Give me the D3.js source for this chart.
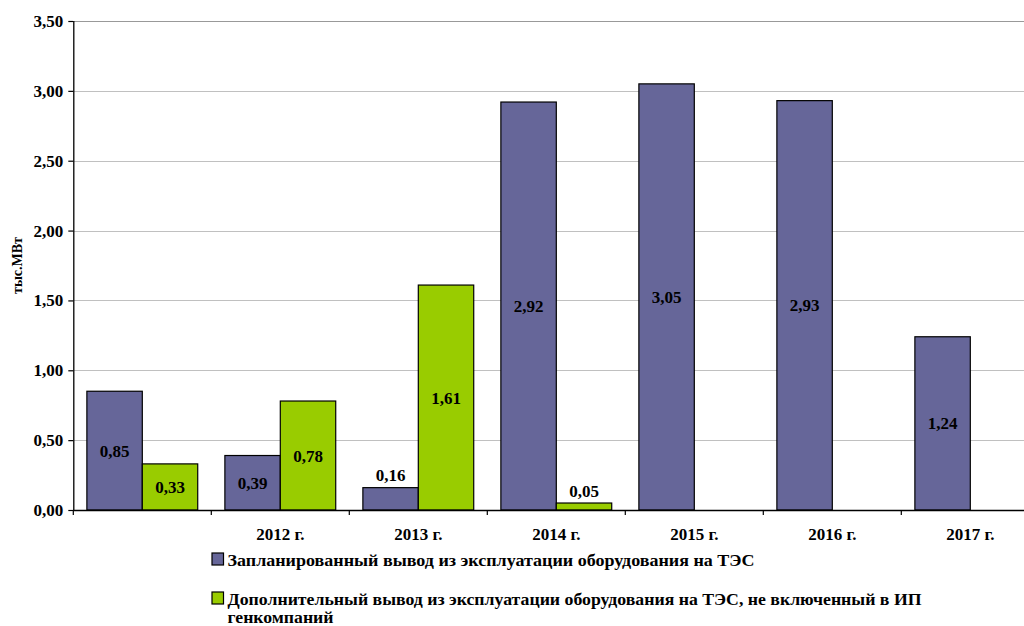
<!DOCTYPE html>
<html>
<head>
<meta charset="utf-8">
<script src="https://cdn.jsdelivr.net/npm/d3@7"></script>
<style>
  html, body { margin: 0; padding: 0; background: #fff; }
  svg { display: block; }
  svg text { font-family: "Liberation Serif", "Tinos", "DejaVu Serif", serif; font-weight: 700; fill: #000; }
</style>
</head>
<body>
<svg id="chart" width="1024" height="626"></svg>
<script>
// Categories (the first period has no caption on the axis)
const categories = ["", "2012 г.", "2013 г.", "2014 г.", "2015 г.", "2016 г.", "2017 г."];
const seriesNames = [
  "Запланированный вывод из эксплуатации оборудования на ТЭС",
  "Дополнительный вывод из эксплуатации оборудования на ТЭС, не включенный в ИП генкомпаний"
];
// тыс. МВт
const planned    = [0.85, 0.39, 0.16, 2.92, 3.05, 2.93, 1.24];
const additional = [0.33, 0.78, 1.61, 0.05, null, null, null];
const yTicks = [0, 0.5, 1, 1.5, 2, 2.5, 3, 3.5];
const yTitle = "тыс.МВт";

const colors = ["#666699", "#99CC00"];
const fmt = v => v.toFixed(2).replace(".", ",");
const FONT = "'Liberation Serif', 'Tinos', 'DejaVu Serif', serif";

const svg = d3.select("#chart");
const plotLeft = 73.3, plotTop = 21, plotBottom = 510;
const catWidth = 138;
const plotRight = plotLeft + catWidth * categories.length; // plot runs past the right edge

const x0 = d3.scaleBand().domain(categories).range([plotLeft, plotRight]).padding(0);
const x1 = d3.scaleBand().domain([0, 1]).range([0, x0.bandwidth()])
  .paddingInner(0).paddingOuter(0.245);
const y = d3.scaleLinear().domain([0, 3.5]).range([plotBottom, plotTop]);

// horizontal gridlines
svg.append("g")
  .selectAll("line")
  .data(yTicks.filter(t => t > 0))
  .join("line")
  .attr("x1", plotLeft).attr("x2", plotRight)
  .attr("y1", d => Math.round(y(d)) + 0.5).attr("y2", d => Math.round(y(d)) + 0.5)
  .attr("stroke", d => d === 3.5 ? "#999" : "#c0c0c0")
  .attr("stroke-width", 1.2);

// bars
const rows = categories.map((c, i) => ({ cat: c, vals: [planned[i], additional[i]] }));
const groups = svg.append("g").selectAll("g")
  .data(rows).join("g")
  .attr("transform", d => `translate(${x0(d.cat)},0)`);

groups.selectAll("rect")
  .data(d => d.vals.map((v, s) => ({ v, s })).filter(e => e.v != null))
  .join("rect")
  .attr("x", e => x1(e.s))
  .attr("width", x1.bandwidth())
  .attr("y", e => y(e.v))
  .attr("height", e => y(0) - y(e.v))
  .attr("fill", e => colors[e.s])
  .attr("stroke", "#000")
  .attr("stroke-width", 1.2);

// value labels: centred in the bar, or just above when the bar is too short
groups.selectAll("text.val")
  .data(d => d.vals.map((v, s) => ({ v, s })).filter(e => e.v != null))
  .join("text")
  .attr("class", "val")
  .attr("x", e => x1(e.s) + x1.bandwidth() / 2)
  .attr("y", e => e.v < 0.25 ? y(e.v) - 6.5 : (y(e.v) + y(0)) / 2 + 6)
  .attr("text-anchor", "middle")
  .style("font-family", FONT)
  .style("font-size", "17px")
  .text(e => fmt(e.v));

// y axis
const yAxis = svg.append("g")
  .attr("transform", `translate(${plotLeft},0)`)
  .call(d3.axisLeft(y).tickValues(yTicks).tickSize(5).tickPadding(5).tickFormat(fmt));
yAxis.select(".domain").attr("stroke", "#000").attr("stroke-width", 1.3)
  .attr("d", `M0.5,${plotBottom}V${plotTop}`);
yAxis.selectAll(".tick line").attr("stroke", "#000").attr("stroke-width", 1.2);
yAxis.selectAll(".tick text")
  .style("font-size", "17px")
  .style("font-family", FONT)
  .style("font-weight", "700")
  .attr("fill", "#000");

// x axis
const xAxis = svg.append("g")
  .attr("transform", `translate(0,${plotBottom})`)
  .call(d3.axisBottom(x0).tickSize(0).tickPadding(18));
xAxis.select(".domain").attr("stroke", "#000").attr("stroke-width", 1.4)
  .attr("d", `M${plotLeft},0.5H${plotRight}`);
xAxis.selectAll(".tick text")
  .style("font-size", "17px")
  .style("font-family", FONT)
  .style("font-weight", "700")
  .attr("fill", "#000");
// category boundary marks
svg.append("g").selectAll("line")
  .data(categories)
  .join("line")
  .attr("x1", d => x0(d)).attr("x2", d => x0(d))
  .attr("y1", plotBottom).attr("y2", plotBottom + 5)
  .attr("stroke", "#000").attr("stroke-width", 1.2);

// y axis title
svg.append("text")
  .attr("transform", `translate(22,${(plotTop + plotBottom) / 2}) rotate(-90)`)
  .attr("text-anchor", "middle")
  .style("font-family", FONT)
  .style("font-size", "14px")
  .text(yTitle);

// legend
const legend = svg.append("g");
const legendItems = [
  { s: 0, lines: [seriesNames[0]], y: 553, widths: [527] },
  { s: 1, lines: ["Дополнительный вывод из эксплуатации оборудования на ТЭС, не включенный в ИП", "генкомпаний"], y: 592, widths: [694, 106] }
];
legendItems.forEach(item => {
  legend.append("rect")
    .attr("x", 212).attr("y", item.y)
    .attr("width", 11.5).attr("height", 12)
    .attr("fill", colors[item.s])
    .attr("stroke", "#000").attr("stroke-width", 1.2);
  item.lines.forEach((ln, k) => {
    legend.append("text")
      .attr("x", 227.5)
      .attr("y", item.y + 13 + k * 17.5)
      .attr("textLength", item.widths[k])
      .attr("lengthAdjust", "spacingAndGlyphs")
      .style("font-family", FONT)
      .style("font-size", "17px")
      .text(ln);
  });
});
</script>
</body>
</html>
